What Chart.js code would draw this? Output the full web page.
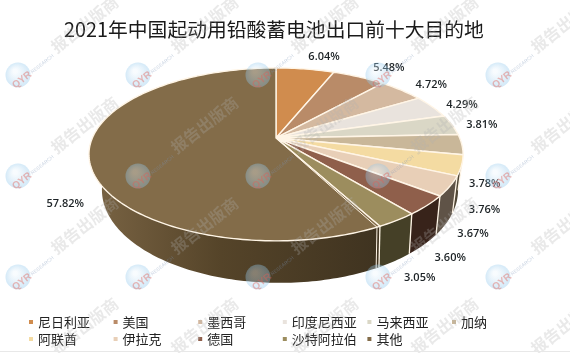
<!DOCTYPE html>
<html><head><meta charset="utf-8">
<style>html,body{margin:0;padding:0;background:#fff}#w{width:570px;height:353px;position:relative}</style>
<script src="https://cdn.jsdelivr.net/npm/chart.js@4"></script>
</head><body><div id="w"><canvas id="c" width="570" height="353"></canvas></div>
<script>
const titleText = '2021年中国起动用铅酸蓄电池出口前十大目的地';
const categories = ['尼日利亚','美国','墨西哥','印度尼西亚','马来西亚','加纳','阿联酋','伊拉克','德国','沙特阿拉伯','其他'];
const shares = [6.04,5.48,4.72,4.29,3.81,3.78,3.76,3.67,3.60,3.05,57.82];
const faceColors = ['#D08C4E','#B98B68','#D4B9A0','#E9E3DD','#DAD7C6','#C9B799','#F4DBA2','#E8CFB7','#8F5F4B','#9C8D5E','#836C49'];
const wallColors = ['#7a5230','#6e5240','#7e6e60','#8a8680','#807e74','#6e6250','#4F4636','#5F5347','#38231A','#454027','#3F3320'];
const watermarkText = '报告出版商';

const P = {k:0.19, rx:2.04, ry:0.9256, dx:2, depth:34.3, bx:4, bsx:0.952, bsy:1.075, line:'#FFF5E6'};
function project(a, arc, bottom){
  const u=Math.cos(a), v=Math.sin(a), w=1-P.k*v, R=arc.outerRadius;
  const sx = bottom?P.bsx:1, sy = bottom?P.bsy:1;
  return {x:arc.x+P.dx+(bottom?P.bx:0)+sx*P.rx*R*u/w, y:arc.y+(bottom?P.depth:0)+sy*P.ry*R*v/w, u, v};
}
function facePath(ctx,arc,a0,a1){
  ctx.beginPath(); ctx.moveTo(arc.x+P.dx,arc.y);
  const n=Math.max(2,Math.ceil((a1-a0)/0.02));
  for(let i=0;i<=n;i++){const p=project(a0+(a1-a0)*i/n,arc);ctx.lineTo(p.x,p.y);}
  ctx.closePath();
}
const pie3d={
  id:'pie3d',
  beforeDatasetDraw(){return false;},
  afterDatasetsDraw(chart){
    const ctx=chart.ctx, arcs=chart.getDatasetMeta(0).data;
    ctx.save();
    // walls: only the front of the rim is visible; faces paint over the rest
    const lo=-Math.PI*0.12, hi=Math.PI*1.12, seamLo=Math.PI*0.02, seamHi=Math.PI*0.98;
    arcs.forEach((arc,i)=>{
      const a0=Math.max(arc.startAngle,lo), a1=Math.min(arc.endAngle,hi);
      if(a1<=a0)return;
      const n=Math.max(2,Math.ceil((a1-a0)/0.02));
      ctx.beginPath();
      for(let j=0;j<=n;j++){const p=project(a0+(a1-a0)*j/n,arc);j?ctx.lineTo(p.x,p.y):ctx.moveTo(p.x,p.y);}
      for(let j=n;j>=0;j--){const p=project(a0+(a1-a0)*j/n,arc,true);ctx.lineTo(p.x,p.y);}
      ctx.closePath();
      if(i===arcs.length-1){
        const g=ctx.createLinearGradient(90,0,380,0);
        g.addColorStop(0,'#7A6444');g.addColorStop(0.45,'#554429');g.addColorStop(1,wallColors[i]);
        ctx.fillStyle=g;
      } else ctx.fillStyle=wallColors[i];
      ctx.fill();
      if(arc.startAngle>seamLo&&arc.startAngle<seamHi){
        const t=project(arc.startAngle,arc),b=project(arc.startAngle,arc,true);
        ctx.strokeStyle=P.line;ctx.lineWidth=1.3;ctx.beginPath();ctx.moveTo(t.x,t.y);ctx.lineTo(b.x,b.y);ctx.stroke();
      }
    });
    // faces
    arcs.forEach((arc,i)=>{
      facePath(ctx,arc,arc.startAngle,arc.endAngle);
      ctx.fillStyle=faceColors[i];ctx.fill();
      ctx.strokeStyle=P.line;ctx.lineWidth=1.4;ctx.lineJoin='round';ctx.stroke();
    });
    // thin double seam on the large slice
    const big=arcs[arcs.length-1];
    const sa=big.startAngle+0.016;
    const t=project(sa,big), b=project(sa,big,true);
    ctx.strokeStyle=P.line;ctx.lineWidth=1;
    ctx.beginPath();ctx.moveTo(big.x+P.dx,big.y);ctx.lineTo(t.x,t.y);ctx.lineTo(b.x,b.y);ctx.stroke();
    // value labels
    ctx.font='600 11px "Open Sans"';ctx.textAlign='center';ctx.textBaseline='middle';ctx.fillStyle='#1d2326';
    const labelDrop=44;
    arcs.forEach((arc,i)=>{
      const mid=(arc.startAngle+arc.endAngle)/2, p=project(mid,arc);
      const off = p.v<0&&p.u>0 ? 30 : (p.u>0?23:24);
      const x=p.x+off*Math.sign(p.u)*Math.min(1,Math.abs(p.u)/0.3);
      const y=p.y+labelDrop*Math.max(0,Math.min(1,p.v/0.085))+(p.v<0?-13*p.v*p.v:24*p.v*p.v*p.v);
      ctx.fillText(shares[i].toFixed(2)+'%',x,y);
    });
    ctx.restore();
  },
  afterDraw(chart){
    const ctx=chart.ctx;
    ctx.save();
    // legend
    ctx.font='13px "Noto Sans CJK SC"';ctx.textAlign='left';ctx.textBaseline='middle';
    categories.forEach((name,i)=>{
      const col=i%6,row=Math.floor(i/6),x=38+col*84.6,y=322+row*17;
      ctx.fillStyle=faceColors[i];ctx.fillRect(x-9,y-2,4,4);
      ctx.fillStyle='#222';ctx.fillText(name,x,y);
    });
    // watermark grid
    for(let c=0;c<5;c++)for(let r=0;r<4;r++){
      ctx.save();ctx.translate(53+c*120,49+r*100.5);ctx.rotate(-38*Math.PI/180);
      ctx.font='bold 16px "Noto Sans CJK SC"';ctx.textAlign='left';ctx.textBaseline='middle';
      ctx.fillStyle='rgba(175,175,175,0.28)';ctx.fillText(watermarkText,0,0);ctx.restore();
    }
    for(let c=0;c<5;c++)for(let r=0;r<3;r++){
      const x=18+c*120,y=75+r*101;
      const g=ctx.createRadialGradient(x-3,y-4,2,x,y,13);
      g.addColorStop(0,'rgba(235,245,252,0.35)');g.addColorStop(1,'rgba(135,195,235,0.38)');
      ctx.fillStyle=g;ctx.beginPath();ctx.arc(x,y,12.5,0,Math.PI*2);ctx.fill();
      ctx.save();ctx.translate(x+4,y+5);ctx.rotate(-38*Math.PI/180);
      ctx.font='bold 10px "Liberation Sans"';ctx.textAlign='center';ctx.textBaseline='middle';
      ctx.fillStyle='rgba(225,95,85,0.42)';ctx.fillText('QYR',0,0);
      ctx.font='5px "Liberation Sans"';ctx.textAlign='left';ctx.fillStyle='rgba(125,150,185,0.4)';
      ctx.fillText('RESEARCH',12,0);ctx.restore();
    }
    ctx.fillStyle='#e8e8e8';ctx.fillRect(0,351,570,1);
    ctx.restore();
  }
};
new Chart(document.getElementById('c'),{
  type:'pie',
  data:{labels:categories,datasets:[{data:shares,backgroundColor:faceColors,borderWidth:0}]},
  plugins:[pie3d],
  options:{
    responsive:false,animation:false,
    layout:{padding:{top:0,right:22,bottom:125,left:0}},
    events:[],
    plugins:{
      legend:{display:false},tooltip:{enabled:false},
      title:{display:true,text:titleText,color:'#1a1a1a',
        font:{family:'"Noto Sans CJK SC"',size:19.8,weight:'normal',lineHeight:1.2},
        padding:{top:18,bottom:6.2}}
    }
  }
});
</script></body></html>
